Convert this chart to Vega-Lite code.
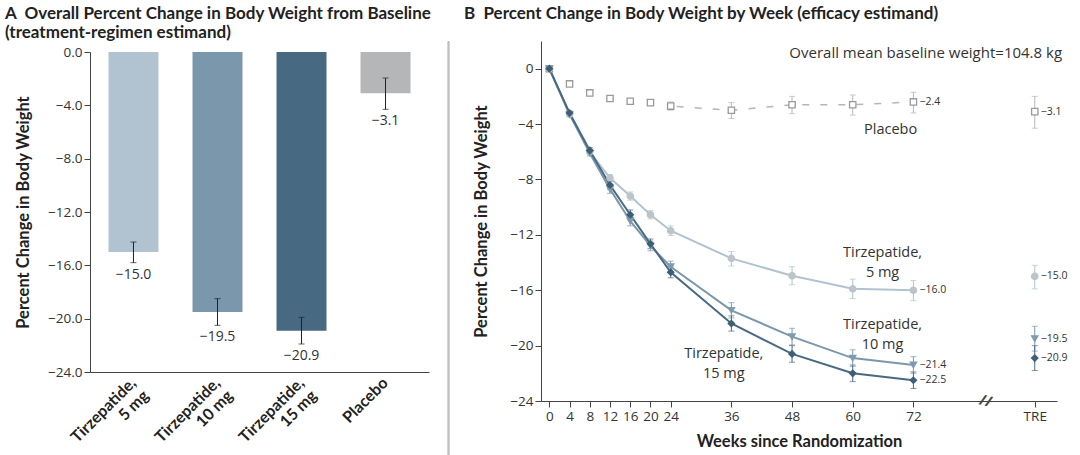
{
  "$schema": "https://vega.github.io/schema/vega-lite/v6.json",
  "padding": {"left": 5, "top": 4, "right": 0, "bottom": 0},
  "background": "white",
  "config": {
    "font": "Open Sans",
    "view": {"stroke": null},
    "concat": {"spacing": 14.5},
    "axis": {
      "labelFont": "Open Sans", "labelFontSize": 13.5, "labelColor": "#333",
      "titleFont": "Lato", "titleFontSize": 16.5, "titleFontWeight": "bold", "titleColor": "#222",
      "domainColor": "#444", "tickColor": "#444", "grid": false, "tickSize": 6, "labelPadding": 2
    },
    "title": {"font": "Lato", "fontSize": 17, "fontWeight": "bold", "color": "#222", "anchor": "start", "lineHeight": 19}
  },
  "datasets": {
    "bars": [
      {"group": "Tirzepatide,\n5 mg", "value": -15.0, "lo": -15.8, "hi": -14.25},
      {"group": "Tirzepatide,\n10 mg", "value": -19.5, "lo": -20.5, "hi": -18.5},
      {"group": "Tirzepatide,\n15 mg", "value": -20.9, "lo": -21.9, "hi": -19.9},
      {"group": "Placebo", "value": -3.1, "lo": -4.3, "hi": -1.95}
    ],
    "weekly": [
      {"series": "Placebo", "week": 0, "value": 0, "lo": 0, "hi": 0, "tre": false},
      {"series": "Placebo", "week": 4, "value": -1.1, "lo": -1.25, "hi": -0.95, "tre": false},
      {"series": "Placebo", "week": 8, "value": -1.75, "lo": -1.9, "hi": -1.6, "tre": false},
      {"series": "Placebo", "week": 12, "value": -2.15, "lo": -2.3, "hi": -2.0, "tre": false},
      {"series": "Placebo", "week": 16, "value": -2.35, "lo": -2.5, "hi": -2.2, "tre": false},
      {"series": "Placebo", "week": 20, "value": -2.45, "lo": -2.65, "hi": -2.25, "tre": false},
      {"series": "Placebo", "week": 24, "value": -2.7, "lo": -3.0, "hi": -2.4, "tre": false},
      {"series": "Placebo", "week": 36, "value": -3.0, "lo": -3.6, "hi": -2.45, "tre": false},
      {"series": "Placebo", "week": 48, "value": -2.6, "lo": -3.25, "hi": -2.0, "tre": false},
      {"series": "Placebo", "week": 60, "value": -2.6, "lo": -3.35, "hi": -1.9, "tre": false},
      {"series": "Placebo", "week": 72, "value": -2.4, "lo": -3.2, "hi": -1.7, "tre": false, "label": "−2.4"},
      {"series": "Placebo", "week": 96, "value": -3.1, "lo": -4.3, "hi": -2.0, "tre": true, "label": "−3.1"},
      {"series": "5 mg", "week": 0, "value": 0, "lo": 0, "hi": 0, "tre": false},
      {"series": "5 mg", "week": 4, "value": -3.3, "lo": -3.45, "hi": -3.15, "tre": false},
      {"series": "5 mg", "week": 8, "value": -6.0, "lo": -6.2, "hi": -5.8, "tre": false},
      {"series": "5 mg", "week": 12, "value": -7.9, "lo": -8.15, "hi": -7.65, "tre": false},
      {"series": "5 mg", "week": 16, "value": -9.2, "lo": -9.5, "hi": -8.9, "tre": false},
      {"series": "5 mg", "week": 20, "value": -10.55, "lo": -10.85, "hi": -10.25, "tre": false},
      {"series": "5 mg", "week": 24, "value": -11.7, "lo": -12.05, "hi": -11.35, "tre": false},
      {"series": "5 mg", "week": 36, "value": -13.7, "lo": -14.25, "hi": -13.2, "tre": false},
      {"series": "5 mg", "week": 48, "value": -14.95, "lo": -15.6, "hi": -14.3, "tre": false},
      {"series": "5 mg", "week": 60, "value": -15.9, "lo": -16.6, "hi": -15.2, "tre": false},
      {"series": "5 mg", "week": 72, "value": -16.0, "lo": -16.75, "hi": -15.3, "tre": false, "label": "−16.0"},
      {"series": "5 mg", "week": 96, "value": -15.0, "lo": -15.9, "hi": -14.2, "tre": true, "label": "−15.0"},
      {"series": "10 mg", "week": 0, "value": 0, "lo": 0, "hi": 0, "tre": false},
      {"series": "10 mg", "week": 4, "value": -3.3, "lo": -3.45, "hi": -3.15, "tre": false},
      {"series": "10 mg", "week": 8, "value": -6.1, "lo": -6.3, "hi": -5.9, "tre": false},
      {"series": "10 mg", "week": 12, "value": -8.7, "lo": -9.0, "hi": -8.4, "tre": false},
      {"series": "10 mg", "week": 16, "value": -11.0, "lo": -11.35, "hi": -10.65, "tre": false},
      {"series": "10 mg", "week": 20, "value": -12.8, "lo": -13.15, "hi": -12.45, "tre": false},
      {"series": "10 mg", "week": 24, "value": -14.3, "lo": -14.7, "hi": -13.9, "tre": false},
      {"series": "10 mg", "week": 36, "value": -17.45, "lo": -18.0, "hi": -16.9, "tre": false},
      {"series": "10 mg", "week": 48, "value": -19.35, "lo": -19.95, "hi": -18.75, "tre": false},
      {"series": "10 mg", "week": 60, "value": -20.9, "lo": -21.5, "hi": -20.3, "tre": false},
      {"series": "10 mg", "week": 72, "value": -21.4, "lo": -22.0, "hi": -20.8, "tre": false, "label": "−21.4"},
      {"series": "10 mg", "week": 96, "value": -19.5, "lo": -20.4, "hi": -18.6, "tre": true, "label": "−19.5"},
      {"series": "15 mg", "week": 0, "value": 0, "lo": 0, "hi": 0, "tre": false},
      {"series": "15 mg", "week": 4, "value": -3.2, "lo": -3.35, "hi": -3.05, "tre": false},
      {"series": "15 mg", "week": 8, "value": -5.9, "lo": -6.1, "hi": -5.7, "tre": false},
      {"series": "15 mg", "week": 12, "value": -8.4, "lo": -8.7, "hi": -8.1, "tre": false},
      {"series": "15 mg", "week": 16, "value": -10.55, "lo": -10.9, "hi": -10.2, "tre": false},
      {"series": "15 mg", "week": 20, "value": -12.65, "lo": -13.0, "hi": -12.3, "tre": false},
      {"series": "15 mg", "week": 24, "value": -14.7, "lo": -15.1, "hi": -14.3, "tre": false},
      {"series": "15 mg", "week": 36, "value": -18.4, "lo": -18.95, "hi": -17.85, "tre": false},
      {"series": "15 mg", "week": 48, "value": -20.6, "lo": -21.2, "hi": -20.0, "tre": false},
      {"series": "15 mg", "week": 60, "value": -22.0, "lo": -22.6, "hi": -21.4, "tre": false},
      {"series": "15 mg", "week": 72, "value": -22.5, "lo": -23.1, "hi": -21.9, "tre": false, "label": "−22.5"},
      {"series": "15 mg", "week": 96, "value": -20.9, "lo": -21.8, "hi": -20.0, "tre": true, "label": "−20.9"}
    ],
    "notes": [
      {"text": "Tirzepatide,\n5 mg", "week": 65.9, "value": -13.6},
      {"text": "Tirzepatide,\n10 mg", "week": 65.9, "value": -18.8},
      {"text": "Tirzepatide,\n15 mg", "week": 34.5, "value": -20.9},
      {"text": "Placebo", "week": 67.5, "value": -4.7}
    ]
  },
  "hconcat": [
    {
      "spacing": -2,
      "vconcat": [
        {
          "width": 339,
          "height": 1,
          "title": {"text": ["A\u00a0\u00a0Overall Percent Change in Body Weight from Baseline", "\u00a0\u00a0\u00a0\u00a0\u00a0\u00a0\u00a0\u00a0\u00a0(treatment-regimen estimand)"], "frame": "group", "dx": -85, "offset": -6},
          "data": {"values": [{}]},
          "mark": {"type": "text"},
          "encoding": {"text": {"value": ""}}
        },
        {
          "width": 339,
          "height": 320,
          "data": {"name": "bars"},
          "encoding": {
            "x": {"field": "group", "type": "nominal", "sort": null,
              "scale": {"paddingInner": 0.405, "paddingOuter": 0.22},
              "axis": {"title": null, "ticks": false, "labelAngle": -45, "labelAlign": "right", "labelBaseline": "middle", "labelFont": "Lato", "labelFontWeight": "bold", "labelFontSize": 16, "labelColor": "#222", "labelPadding": 8, "labelLineHeight": 18, "labelExpr": "split(datum.value, '\\n')"}
            }
          },
          "layer": [
            {
              "mark": {"type": "bar"},
              "encoding": {
                "y": {"field": "value", "type": "quantitative", "title": "Percent Change in Body Weight",
                  "scale": {"domain": [-24, 0], "nice": false},
                  "axis": {"values": [0, -4, -8, -12, -16, -20, -24], "format": ".1f", "titlePadding": 16}
                },
                "color": {"field": "group", "type": "nominal", "legend": null,
                  "scale": {"domain": ["Tirzepatide,\n5 mg", "Tirzepatide,\n10 mg", "Tirzepatide,\n15 mg", "Placebo"], "range": ["#b1c3d0", "#7b97ab", "#476a82", "#b5b6b8"]}
                }
              }
            },
            {
              "mark": {"type": "rule", "strokeDash": [5, 3], "color": "#333", "strokeWidth": 1},
              "encoding": {"y": {"datum": 0}}
            },
            {
              "mark": {"type": "errorbar", "ticks": {"size": 6, "color": "#222"}, "color": "#222"},
              "encoding": {
                "y": {"field": "lo", "type": "quantitative", "title": "Percent Change in Body Weight"},
                "y2": {"field": "hi"}
              }
            },
            {
              "mark": {"type": "text", "baseline": "top", "dy": 5, "fontSize": 14, "color": "#333"},
              "encoding": {
                "y": {"field": "lo", "type": "quantitative", "title": "Percent Change in Body Weight"},
                "text": {"field": "value", "type": "quantitative", "format": ".1f"}
              }
            }
          ]
        }
      ]
    },
    {
      "width": 1,
      "height": 415,
      "view": {"stroke": "#aaa", "strokeWidth": 1},
      "data": {"values": [{}]},
      "mark": {"type": "text"},
      "encoding": {"text": {"value": ""}}
    },
    {
      "width": 516,
      "height": 360,
      "title": {"text": "B\u00a0\u00a0Percent Change in Body Weight by Week (efficacy estimand)", "frame": "group", "dx": -77, "offset": 18},
      "encoding": {
        "x": {"field": "week", "type": "quantitative",
          "scale": {"domain": [-1.65, 100.4], "nice": false, "zero": false},
          "axis": {"title": "Weeks since Randomization", "values": [0, 4, 8, 12, 16, 20, 24, 36, 48, 60, 72, 96], "labelExpr": "datum.value == 96 ? 'TRE' : datum.label", "labelOverlap": false, "labelFlush": false, "titlePadding": 11}
        },
        "y": {"field": "value", "type": "quantitative", "title": "Percent Change in Body Weight",
          "scale": {"domain": [-24, 2], "nice": false},
          "axis": {"values": [0, -4, -8, -12, -16, -20, -24], "format": "d", "titlePadding": 20}
        }
      },
      "layer": [
        {
          "mark": {"type": "rule", "strokeDash": [5, 3], "color": "#333", "strokeWidth": 1},
          "encoding": {"y": {"datum": 0}, "x": null}
        },
        {
          "data": {"name": "weekly"},
          "transform": [{"filter": "datum.week > 0"}],
          "mark": {"type": "errorbar", "ticks": {"size": 6}, "thickness": 1},
          "encoding": {
            "y": {"field": "lo", "type": "quantitative", "title": "Percent Change in Body Weight"},
            "y2": {"field": "hi"},
            "color": {"field": "series", "type": "nominal", "legend": null,
              "scale": {"domain": ["5 mg", "10 mg", "15 mg", "Placebo"], "range": ["#bcc4c9", "#7f9bae", "#3e5f75", "#a5a5a5"]}}
          }
        },
        {
          "data": {"name": "weekly"},
          "transform": [{"filter": "!datum.tre && datum.series != 'Placebo'"}],
          "mark": {"type": "line", "strokeWidth": 2},
          "encoding": {
            "color": {"field": "series", "type": "nominal", "legend": null,
              "scale": {"domain": ["5 mg", "10 mg", "15 mg", "Placebo"], "range": ["#bcc4c9", "#7f9bae", "#3e5f75", "#a5a5a5"]}}
          }
        },
        {
          "data": {"name": "weekly"},
          "transform": [{"filter": "!datum.tre && datum.series == 'Placebo' && datum.week >= 24"}],
          "mark": {"type": "line", "strokeWidth": 1.5, "strokeDash": [7, 11], "strokeDashOffset": -6},
          "encoding": {
            "color": {"field": "series", "type": "nominal", "legend": null,
              "scale": {"domain": ["5 mg", "10 mg", "15 mg", "Placebo"], "range": ["#bcc4c9", "#7f9bae", "#3e5f75", "#a5a5a5"]}}
          }
        },
        {
          "data": {"name": "weekly"},
          "mark": {"type": "point", "filled": true, "size": 40, "strokeWidth": 1.3, "opacity": 1},
          "encoding": {
            "shape": {"field": "series", "type": "nominal", "legend": null,
              "scale": {"domain": ["5 mg", "10 mg", "15 mg", "Placebo"], "range": ["circle", "triangle-down", "diamond", "square"]}},
            "fill": {"field": "series", "type": "nominal", "legend": null,
              "scale": {"domain": ["5 mg", "10 mg", "15 mg", "Placebo"], "range": ["#bcc4c9", "#7f9bae", "#3e5f75", "#ffffff"]}},
            "stroke": {"field": "series", "type": "nominal", "legend": null,
              "scale": {"domain": ["5 mg", "10 mg", "15 mg", "Placebo"], "range": ["#bcc4c9", "#7f9bae", "#3e5f75", "#9a9a9a"]}}
          }
        },
        {
          "data": {"name": "weekly"},
          "transform": [{"filter": "isValid(datum.label)"}],
          "mark": {"type": "text", "align": "left", "baseline": "middle", "dx": 6, "fontSize": 10.5, "color": "#333"},
          "encoding": {"text": {"field": "label", "type": "nominal"}}
        },
        {
          "data": {"name": "notes"},
          "mark": {"type": "text", "align": "center", "baseline": "alphabetic", "fontSize": 14.5, "lineBreak": "\n", "lineHeight": 20, "color": "#333"},
          "encoding": {"text": {"field": "text", "type": "nominal"}}
        },
        {
          "data": {"values": [{"text": "Overall mean baseline weight=104.8 kg", "week": 101.4, "value": 0.8}]},
          "mark": {"type": "text", "align": "right", "baseline": "alphabetic", "fontSize": 15, "color": "#333"},
          "encoding": {"text": {"field": "text", "type": "nominal"}}
        },
        {
          "data": {"values": [{"text": "//", "week": 86.3, "value": -24}]},
          "mark": {"type": "text", "align": "center", "baseline": "middle", "fontSize": 15, "fontWeight": "bold", "angle": 15, "color": "#444"},
          "encoding": {"text": {"field": "text", "type": "nominal"}}
        }
      ]
    }
  ]
}
